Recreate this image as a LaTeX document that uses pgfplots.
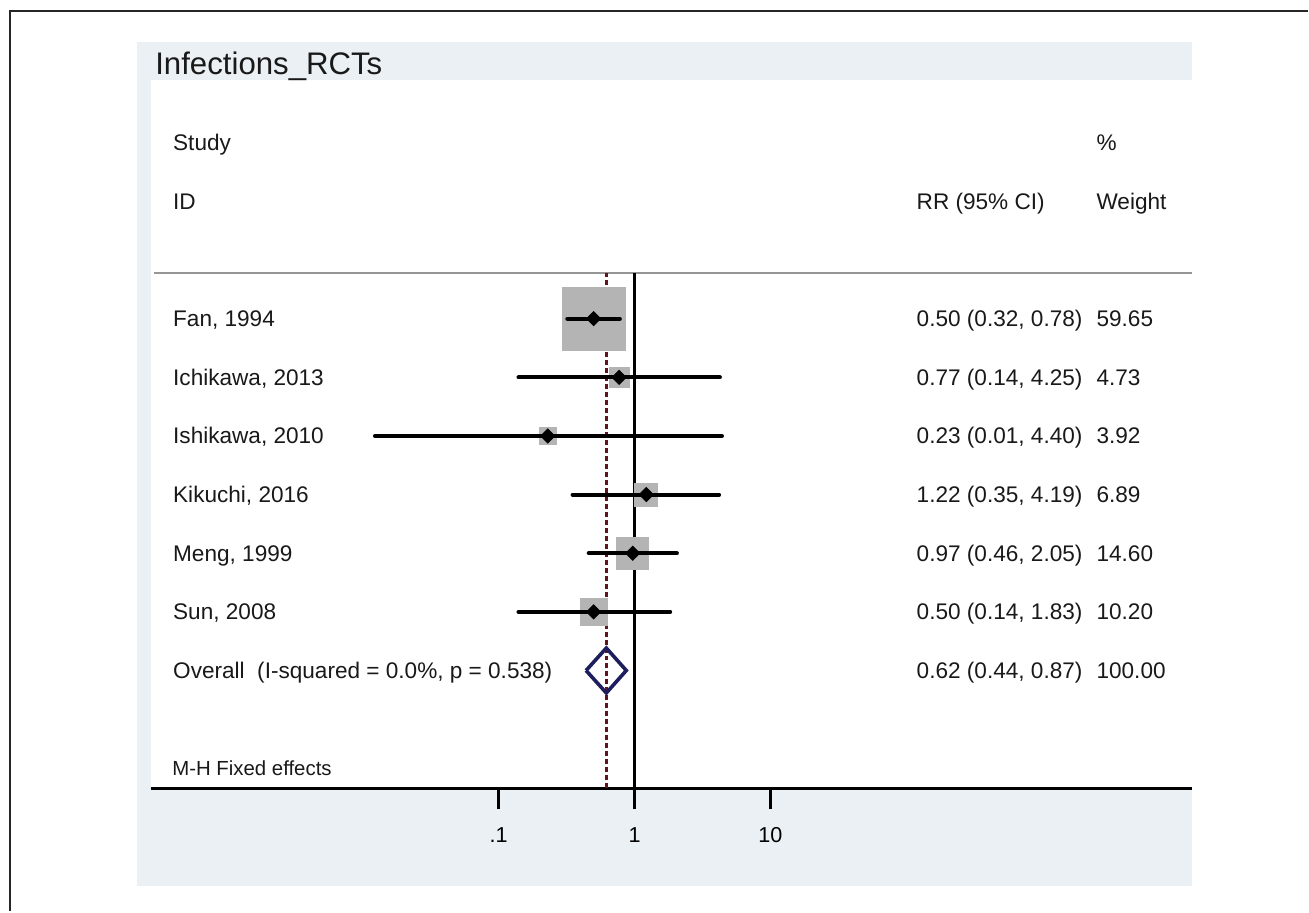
\documentclass[border=0pt]{standalone}
\usepackage{fontspec}
\setmainfont{Liberation Sans}
\usepackage{pgfplots}
\pgfplotsset{compat=1.18}
\definecolor{panel}{RGB}{234,240,243}
\definecolor{boxgray}{RGB}{180,180,180}
\definecolor{maroonline}{RGB}{95,20,30}
\definecolor{navyline}{RGB}{30,30,95}
\definecolor{sepgray}{RGB}{150,150,150}
\tikzset{lab/.style={anchor=base west, inner sep=0pt, yshift=-4pt, font=\fontsize{11.3}{13}\selectfont, text=black!90}}
\begin{document}
\begin{tikzpicture}
\begin{scope}[x=0.5pt,y=-0.5pt]
  \path[fill=white] (0,0) rectangle (1309,912);
  \draw[line width=1pt, black!85] (10,912) -- (10,11) -- (1309,11);
  \fill[panel] (137,42) rectangle (1193,887);
  \fill[white] (151,80) rectangle (1193,789);
\end{scope}
\begin{axis}[
  at={(75.5pt,-394.5pt)}, anchor=south west,
  width=521pt, height=354.5pt, scale only axis,
  xmode=log,
  xmin=2.76e-4, xmax=1.268e4,
  ymin=-1.011, ymax=11.073,
  axis x line=bottom,
  x axis line style={line width=1.5pt, -},
  hide y axis,
  xtick={0.1,1,10},
  xticklabels={.1,1,10},
  xminorticks=false,
  tick align=outside,
  major tick length=10.5pt,
  x tick style={black, line width=1.5pt},
  xticklabel style={font=\fontsize{10.8}{12}\selectfont, anchor=base, yshift=-16.5pt},
  clip=false,
  clip marker paths=true,
]
% reference lines
\addplot[sepgray, line width=1pt] coordinates {(2.9e-4,7.78) (1.268e4,7.78)};
\addplot[black, line width=1.5pt] coordinates {(1,-1.011) (1,7.78)};
\addplot[maroonline, line width=1.4pt, dash pattern=on 2.5pt off 1.5pt] coordinates {(0.62,-1.011) (0.62,7.78)};
% weight boxes
\addplot[scatter, only marks, mark=square*,
  mark options={rounded corners=1pt},
  scatter/use mapped color={draw=boxgray, fill=boxgray},
  visualization depends on={\thisrow{s} \as \bsize},
  scatter/@pre marker code/.append style={/tikz/mark size=\bsize}]
  table[x=x, y=y] {
x    y  s
0.50 7  15.75
0.77 6  5.0
0.23 5  4.25
1.22 4  5.75
0.97 3  8.0
0.50 2  6.75
};
% confidence intervals
\addplot[black, line width=2pt, line cap=round] coordinates {(0.32,7) (0.78,7)};
\addplot[black, line width=2pt, line cap=round] coordinates {(0.14,6) (4.25,6)};
\addplot[black, line width=2pt, line cap=round] coordinates {(0.0123,5) (4.40,5)};
\addplot[black, line width=2pt, line cap=round] coordinates {(0.35,4) (4.19,4)};
\addplot[black, line width=2pt, line cap=round] coordinates {(0.46,3) (2.05,3)};
\addplot[black, line width=2pt, line cap=round] coordinates {(0.14,2) (1.83,2)};
% point estimates
\addplot[only marks, mark=square*, mark size=2.5pt, black, mark options={rotate=45}] coordinates {
(0.50,7) (0.77,6) (0.23,5) (1.22,4) (0.97,3) (0.50,2)};
% overall diamond
\addplot[navyline, line width=1.8pt, line join=miter] coordinates {
(0.44,1) (0.62,1.383) (0.87,1) (0.62,0.617) (0.44,1)};
% texts
\node[anchor=base west, inner sep=0pt, font=\fontsize{15.6}{18}\selectfont, text=black!90] at (axis cs:2.956e-4,11.158) {Infections\_RCTs};
\node[lab] at (axis cs:4.0e-4,10) {Study};
\node[lab] at (axis cs:4.0e-4,9) {ID};
\node[lab] at (axis cs:2495,10) {\%};
\node[lab] at (axis cs:118.5,9) {RR (95\% CI)};
\node[lab] at (axis cs:2495,9) {Weight};
\node[lab] at (axis cs:4.0e-4,7) {Fan, 1994};
\node[lab] at (axis cs:4.0e-4,6) {Ichikawa, 2013};
\node[lab] at (axis cs:4.0e-4,5) {Ishikawa, 2010};
\node[lab] at (axis cs:4.0e-4,4) {Kikuchi, 2016};
\node[lab] at (axis cs:4.0e-4,3) {Meng, 1999};
\node[lab] at (axis cs:4.0e-4,2) {Sun, 2008};
\node[lab] at (axis cs:4.0e-4,1) {Overall\ \ (I-squared = 0.0\%, p = 0.538)};
\node[lab] at (axis cs:118.5,7) {0.50 (0.32, 0.78)};
\node[lab] at (axis cs:118.5,6) {0.77 (0.14, 4.25)};
\node[lab] at (axis cs:118.5,5) {0.23 (0.01, 4.40)};
\node[lab] at (axis cs:118.5,4) {1.22 (0.35, 4.19)};
\node[lab] at (axis cs:118.5,3) {0.97 (0.46, 2.05)};
\node[lab] at (axis cs:118.5,2) {0.50 (0.14, 1.83)};
\node[lab] at (axis cs:118.5,1) {0.62 (0.44, 0.87)};
\node[lab] at (axis cs:2495,7) {59.65};
\node[lab] at (axis cs:2495,6) {4.73};
\node[lab] at (axis cs:2495,5) {3.92};
\node[lab] at (axis cs:2495,4) {6.89};
\node[lab] at (axis cs:2495,3) {14.60};
\node[lab] at (axis cs:2495,2) {10.20};
\node[lab] at (axis cs:2495,1) {100.00};
\node[anchor=base west, inner sep=0pt, font=\fontsize{10.2}{12}\selectfont, text=black!90] at (axis cs:3.94e-4,-0.79) {M-H Fixed effects};
\end{axis}
\end{tikzpicture}
\end{document}
